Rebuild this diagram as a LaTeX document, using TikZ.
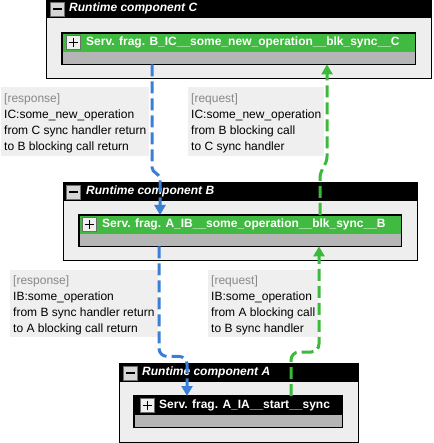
\documentclass[tikz,border=0pt]{standalone}
\usepackage{fontspec}
\setmainfont{Liberation Sans}
\usetikzlibrary{arrows.meta,calc}
\definecolor{compbg}{RGB}{238,238,238}
\definecolor{fraggreen}{RGB}{64,186,64}
\definecolor{bandgray}{RGB}{181,181,181}
\definecolor{lblbg}{RGB}{239,239,239}
\definecolor{lblgray}{RGB}{136,136,136}
\definecolor{connblue}{RGB}{58,127,214}
\definecolor{conngreen}{RGB}{58,185,58}
\definecolor{btnbg}{RGB}{214,214,214}
\definecolor{btnline}{RGB}{110,110,110}
\begin{document}
\begin{tikzpicture}[x=1pt,y=-1pt,
  comp/.style={fill=compbg,draw=black,line width=1.2pt,inner sep=0,anchor=north west},
  hdr/.style={fill=black,inner sep=0,anchor=north west},
  title/.style={text=white,font=\fontsize{12}{14}\selectfont\bfseries\itshape,inner sep=0,anchor=west},
  btn/.style={fill=btnbg,draw=btnline,line width=0.8pt,minimum size=14pt,inner sep=0,anchor=west},
  minusbtn/.style={btn,path picture={\draw[line width=1.8pt,black] ([xshift=-4.5pt]path picture bounding box.center) -- ([xshift=4.5pt]path picture bounding box.center);}},
  plusbtn/.style={btn,fill=white!94!black,path picture={\draw[line width=1.8pt,black] ([xshift=-4.5pt]path picture bounding box.center) -- ([xshift=4.5pt]path picture bounding box.center) ([yshift=-4.5pt]path picture bounding box.center) -- ([yshift=4.5pt]path picture bounding box.center);}},
  frag/.style={inner sep=0,anchor=north west,minimum height=31pt},
  band/.style={fill=bandgray,inner sep=0,anchor=south west,minimum height=12pt},
  fragtext/.style={text=white,font=\fontsize{12}{14}\selectfont\bfseries,inner sep=0,anchor=west},
  lbl/.style={fill=lblbg,inner xsep=3pt,inner ysep=0,align=left,anchor=north west,font=\fontsize{12}{16}\selectfont},
  conn/.style={line width=3pt,dash pattern=on 12pt off 5pt,-{Triangle[length=10pt,width=11pt]}},
  blueconn/.style={conn,draw=connblue},
  greenconn/.style={conn,draw=conngreen}
]
\useasboundingbox (0,0) rectangle (433,443);

% ---------- Component C ----------
\node[comp,minimum width=385pt,minimum height=79pt] (compC) at (46,-1) {};
\node[hdr,minimum width=385pt,minimum height=19pt] (hdrC) at (46,-1) {};
\node[minusbtn] (mC) at (50,9) {};
\node[title] (tC) at (69,8.5) {Runtime component C};
\node[frag,fill=fraggreen,minimum width=353pt] (fragC) at (62,33) {};
\node[band,minimum width=353pt] (bandC) at (fragC.south west) {};
\draw[line width=1.5pt] (fragC.north west) rectangle (fragC.south east);
\node[plusbtn] (pC) at (66,42.5) {};
\node[fragtext] (ftC) at (86,42.5) {Serv. frag. B\_IC\_\_some\_new\_operation\_\_blk\_sync\_\_C};

% ---------- Component B ----------
\node[comp,minimum width=354pt,minimum height=78pt] (compB) at (63,182) {};
\node[hdr,minimum width=354pt,minimum height=19pt] (hdrB) at (63,182) {};
\node[minusbtn] (mB) at (66,192) {};
\node[title] (tB) at (86,191.5) {Runtime component B};
\node[frag,fill=fraggreen,minimum width=322pt] (fragB) at (79,215) {};
\node[band,minimum width=322pt] (bandB) at (fragB.south west) {};
\draw[line width=1.5pt] (fragB.north west) rectangle (fragB.south east);
\node[plusbtn] (pB) at (82,224.5) {};
\node[fragtext] (ftB) at (102,224.5) {Serv. frag. A\_IB\_\_some\_operation\_\_blk\_sync\_\_B};

% ---------- Component A ----------
\node[comp,minimum width=239pt,minimum height=79pt] (compA) at (119,363) {};
\node[hdr,minimum width=239pt,minimum height=19pt] (hdrA) at (119,363) {};
\node[minusbtn] (mA) at (123,373) {};
\node[title] (tA) at (142,372.5) {Runtime component A};
\node[frag,fill=black,minimum width=208pt] (fragA) at (134,396) {};
\node[band,minimum width=208pt] (bandA) at (fragA.south west) {};
\draw[line width=1.5pt] (fragA.north west) rectangle (fragA.south east);
\node[plusbtn] (pA) at (140,405.5) {};
\node[fragtext] (ftA) at (159,405.5) {Serv. frag. A\_IA\_\_start\_\_sync};

% ---------- Labels ----------
\node[lbl] (lCresp) at (1,87) {\rule{0pt}{15pt}{\color{lblgray}[response]}\\IC:some\_new\_operation\\from C sync handler return\\to B blocking call return\rule[-6pt]{0pt}{6pt}};
\node[lbl] (lCreq) at (188,87) {\rule{0pt}{15pt}{\color{lblgray}[request]}\\IC:some\_new\_operation\\from B blocking call\\to C sync handler\rule[-6pt]{0pt}{6pt}};
\node[lbl] (lBresp) at (10,270) {\rule{0pt}{14pt}{\color{lblgray}[response]}\\IB:some\_operation\\from B sync handler return\\to A blocking call return\rule[-5pt]{0pt}{5pt}};
\node[lbl] (lBreq) at (208,270) {\rule{0pt}{14pt}{\color{lblgray}[request]}\\IB:some\_operation\\from A blocking call\\to B sync handler\rule[-5pt]{0pt}{5pt}};

% ---------- Connectors ----------
\coordinate (cb1) at ($(fragC.south west)+(90,0)$);
\coordinate (cb2) at ($(fragB.north west)+(81,0)$);
\draw[blueconn] (cb1) -- ($(cb1)+(0,103)$) to[out=-90,in=90] ($(cb2)+(0,-36)$) -- (cb2);

\coordinate (gc1) at ($(fragB.north west)+(241,0)$);
\coordinate (gc2) at ($(fragC.south west)+(265,0)$);
\draw[greenconn] (gc1) -- ($(gc1)+(0,-37)$) to[out=90,in=-90] ($(gc2)+(0,92)$) -- (gc2);

\coordinate (ba1) at ($(fragB.south west)+(80,0)$);
\coordinate (ba2) at ($(fragA.north west)+(53,0)$);
\draw[blueconn,rounded corners=8pt] (ba1) -- ($(ba1)+(0,110)$) -| (ba2);

\coordinate (ab1) at ($(fragA.north west)+(157,0)$);
\coordinate (ab2) at ($(fragB.south west)+(240,0)$);
\draw[greenconn,rounded corners=8pt] (ab1) -- ($(ab1)+(0,-44)$) -| (ab2);
\end{tikzpicture}
\end{document}
